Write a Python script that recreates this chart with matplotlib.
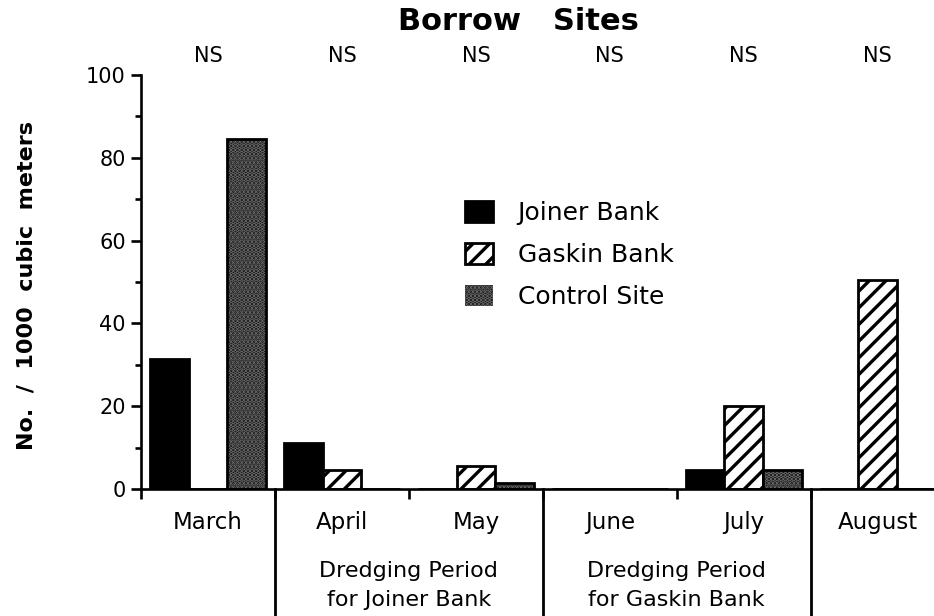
import numpy as np
import matplotlib.pyplot as plt
from matplotlib.patches import Patch

plt.rcParams['font.family'] = ['DejaVu Sans']
plt.rcParams['hatch.linewidth'] = 2.4

# data
months = ['March', 'April', 'May', 'June', 'July', 'August']
joiner = [31.5, 11, 0, 0, 4.5, 0]
gaskin = [0, 4.5, 5.5, 0, 20, 50.5]
control = [84.5, 0, 1.5, 0, 4.5, 0]
signif = ['NS', 'NS', 'NS', 'NS', 'NS', 'NS']
periods = ['Dredging Period\nfor Joiner Bank', 'Dredging Period\nfor Gaskin Bank']
period_pos = [1.5, 3.5]

fig = plt.figure(figsize=(9.34, 6.16), dpi=100)
ax = fig.add_axes([141/934, 127/616, 1 - 141/934, 414/616])

x = np.arange(len(months))
w = 0.288
stip_face, stip_dots = '#111111', '#6e6e6e'

# Joiner Bank: solid black
ax.bar(x - w, joiner, w, color='black', edgecolor='black', linewidth=2)
# Gaskin Bank: diagonal stripes
ax.bar(x, gaskin, w, facecolor='white', edgecolor='black', hatch='//', linewidth=2)
# Control Site: dark stipple
ax.bar(x + w, control, w, facecolor=stip_face, edgecolor=stip_dots, hatch='....', linewidth=0)
ax.bar(x + w, control, w, fill=False, edgecolor='black', linewidth=2)

ax.set_xlim(-0.5, 5.42)
ax.set_ylim(0, 100)
for s in ['top', 'right']:
    ax.spines[s].set_visible(False)
for s in ['left', 'bottom']:
    ax.spines[s].set_linewidth(1.9)

ax.set_yticks(np.arange(0, 101, 20))
ax.set_yticks(np.arange(10, 100, 20), minor=True)
ax.tick_params(axis='y', which='major', length=7, width=1.9, labelsize=15, pad=4)
ax.tick_params(axis='y', which='minor', length=4, width=1.9)
ax.set_xticks(np.arange(-0.5, 5, 1.0))
ax.set_xticklabels([])
ax.tick_params(axis='x', which='major', length=7, width=1.9)

# month labels and group separators
tr = ax.get_xaxis_transform()
for i, m in enumerate(months):
    ax.text(i, -0.080, m, transform=tr, ha='center', va='center', fontsize=16.5)
    ax.text(i, 1.046, signif[i], transform=tr, ha='center', va='center', fontsize=15)
for xs in [0.5, 2.5, 4.5]:
    ax.plot([xs, xs], [0, -0.31], transform=tr, color='black', lw=2, clip_on=False)
for p, lbl in zip(period_pos, periods):
    l1, l2 = lbl.split('\n')
    ax.text(p, -0.198, l1, transform=tr, ha='center', va='center', fontsize=16)
    ax.text(p, -0.268, l2, transform=tr, ha='center', va='center', fontsize=16)

fig.text(518/934, 1 - 22/616, 'Borrow   Sites', ha='center', va='center',
         fontsize=22, fontweight='bold')
fig.text(27/934, 1 - 286/616, 'No.  /  1000  cubic  meters', rotation=90,
         ha='center', va='center', fontsize=16, fontweight='bold')

handles = [Patch(facecolor='black', edgecolor='black', linewidth=2),
           Patch(facecolor='white', edgecolor='black', hatch='//', linewidth=2),
           Patch(facecolor=stip_face, edgecolor=stip_dots, hatch='....', linewidth=0)]
fig.legend(handles, ['Joiner Bank', 'Gaskin Bank', 'Control Site'],
           loc='upper left', bbox_to_anchor=(465/934, 1 - 201/616),
           frameon=False, fontsize=18, handlelength=1.1, handleheight=0.92,
           handletextpad=1.0, labelspacing=0.72, borderpad=0, borderaxespad=0)

fig.savefig('out.png', dpi=100)
